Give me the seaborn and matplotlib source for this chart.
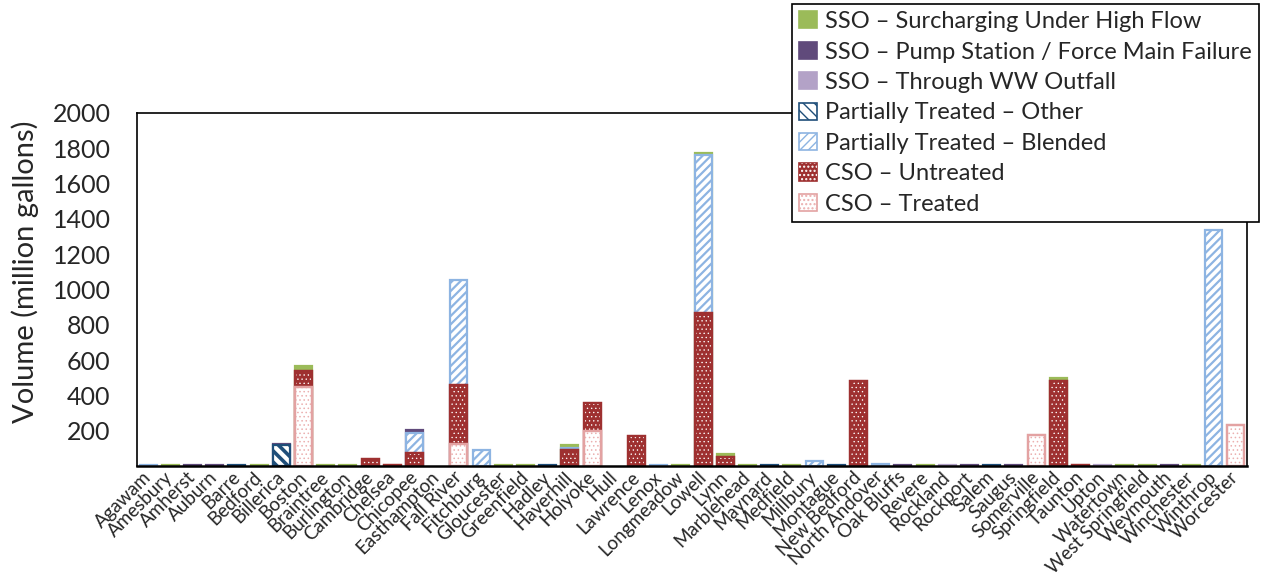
import numpy as np
import pandas as pd
import matplotlib
matplotlib.use("Agg")
import matplotlib.pyplot as plt
from matplotlib.patches import Patch
from matplotlib.ticker import FixedLocator
import seaborn as sns

# ---- data (million gallons) ----
cities = ["Agawam", "Amesbury", "Amherst", "Auburn", "Barre", "Bedford", "Billerica",
          "Boston", "Braintree", "Burlington", "Cambridge", "Chelsea", "Chicopee",
          "Easthampton", "Fall River", "Fitchburg", "Gloucester", "Greenfield", "Hadley",
          "Haverhill", "Holyoke", "Hull", "Lawrence", "Lenox", "Longmeadow", "Lowell",
          "Lynn", "Marblehead", "Maynard", "Medfield", "Millbury", "Montague",
          "New Bedford", "North Andover", "Oak Bluffs", "Revere", "Rockland", "Rockport",
          "Salem", "Saugus", "Somerville", "Springfield", "Taunton", "Upton", "Watertown",
          "West Springfield", "Weymouth", "Winchester", "Winthrop", "Worcester"]

cso_treated = [0, 0, 0, 0, 0, 0, 0, 446, 0, 0, 0, 0, 0, 0, 123, 0, 0, 0, 0, 0, 200, 0, 0, 0, 0,
               0, 0, 0, 0, 0, 0, 0, 0, 0, 0, 0, 0, 0, 0, 0, 176, 0, 0, 0, 0, 0, 0, 0, 0, 232]
cso_untreated = [0, 0, 0, 0, 0, 0, 0, 94, 0, 0, 38, 6, 72, 0, 336, 0, 0, 0, 0, 90, 155, 0, 170, 0, 0,
                 868, 50, 0, 0, 0, 0, 0, 483, 0, 0, 0, 0, 0, 0, 0, 0, 482, 6, 0, 0, 0, 0, 0, 0, 0]
pt_blended = [4, 0, 0, 0, 0, 0, 0, 0, 0, 0, 0, 0, 117, 0, 595, 88, 0, 0, 0, 13, 0, 0, 0, 4, 0,
              893, 0, 0, 0, 0, 30, 0, 0, 14, 0, 0, 0, 0, 0, 0, 0, 0, 0, 0, 0, 0, 0, 0, 1335, 0]
pt_other = [0, 0, 0, 0, 4, 0, 118, 0, 0, 0, 0, 0, 0, 0, 0, 0, 0, 0, 5, 0, 0, 0, 0, 0, 0,
            0, 0, 0, 4, 0, 0, 6, 0, 0, 0, 0, 0, 0, 5, 0, 0, 0, 0, 0, 0, 0, 0, 0, 0, 0]
sso_outfall = [0, 0, 0, 0, 0, 0, 0, 0, 0, 0, 0, 0, 0, 0, 0, 0, 0, 0, 0, 0, 0, 0, 0, 0, 0,
               0, 0, 0, 0, 0, 0, 0, 0, 0, 0, 0, 4, 0, 0, 0, 0, 0, 0, 4, 0, 0, 0, 0, 0, 0]
sso_pump = [0, 0, 4, 4, 0, 0, 8, 0, 0, 0, 0, 0, 14, 0, 0, 0, 0, 0, 0, 0, 0, 0, 0, 0, 0,
            0, 0, 0, 0, 0, 0, 0, 0, 0, 4, 0, 0, 4, 0, 4, 0, 0, 0, 0, 0, 0, 4, 0, 0, 0]
sso_surcharge = [0, 4, 0, 0, 0, 4, 0, 26, 4, 4, 0, 0, 0, 0, 0, 0, 4, 4, 0, 15, 0, 0, 0, 0, 4,
                 15, 16, 3, 0, 3, 0, 0, 0, 0, 0, 4, 0, 0, 0, 0, 0, 14, 0, 0, 4, 4, 0, 4, 0, 0]

y_ticks = [0, 200, 400, 600, 800, 1000, 1200, 1400, 1600, 1800, 2000]

# ---- styles ----
GREEN = "#9BBB59"
PURPLE = "#604A7B"
LILAC = "#B3A2C7"
NAVY = "#1F4E79"
SKY = "#8DB4E2"
RED = "#9E3030"
PINK = "#E3A2A2"
PINK_DOT = "#EBB0B0"

# stacking order, bottom to top
layers = [
    ("CSO – Treated", cso_treated,
     dict(face="white", edge=PINK, hatch=None, over=("....", PINK_DOT, 0.6))),
    ("CSO – Untreated", cso_untreated,
     dict(face=RED, edge=RED, hatch=None, over=("....", "white", 0.45))),
    ("Partially Treated – Blended", pt_blended,
     dict(face="white", edge=SKY, hatch="////", hlw=1.6, over=None)),
    ("Partially Treated – Other", pt_other,
     dict(face="white", edge=NAVY, hatch="\\\\\\", hlw=2.6, over=None)),
    ("SSO – Through WW Outfall", sso_outfall,
     dict(face=LILAC, edge=LILAC, hatch=None, over=None)),
    ("SSO – Pump Station / Force Main Failure", sso_pump,
     dict(face=PURPLE, edge=PURPLE, hatch=None, over=None)),
    ("SSO – Surcharging Under High Flow", sso_surcharge,
     dict(face=GREEN, edge=GREEN, hatch=None, over=None)),
]

sns.set_style("white")
FONT = ["Lato", "DejaVu Sans"]
plt.rcParams["font.family"] = FONT

fig = plt.figure(figsize=(12.67, 5.82), dpi=100)
ax = fig.add_axes([137 / 1267, 1 - 466 / 582, (1247 - 137) / 1267, (466 - 113) / 582])

BAR_W = 0.76


def style_new(start, face, edge, lw, hatch=None, hlw=1.0):
    for p in ax.patches[start:]:
        p.set_facecolor(face)
        p.set_edgecolor(edge)
        p.set_linewidth(lw)
        p.set_hatch(hatch)
        if hasattr(p, "set_hatch_linewidth"):
            p.set_hatch_linewidth(hlw)
        else:
            p._hatch_linewidth = hlw


def bar_layer(heights, mask, face, edge, lw, hatch=None, hlw=1.0):
    df = pd.DataFrame({"city": cities, "vol": heights})[mask]
    start = len(ax.patches)
    sns.barplot(data=df, x="city", y="vol", order=cities, ax=ax, color=face,
                saturation=1, width=BAR_W, errorbar=None)
    style_new(start, face, edge, lw, hatch, hlw)


vals = np.array([np.asarray(v, float) for _, v, _ in layers])
cum = np.cumsum(vals, axis=0)

# draw cumulative totals from the top layer down so each lower layer covers the previous
for k in range(len(layers) - 1, -1, -1):
    name, v, st = layers[k]
    mask = np.asarray(v) > 0
    if not mask.any():
        continue
    bar_layer(cum[k], mask, st["face"], st["edge"], 1.6, st["hatch"], st.get("hlw", 1.0))
    if st["over"] is not None:
        h, c, hlw = st["over"]
        bar_layer(cum[k], mask, "none", c, 0.0, h, hlw)
        # keep the outline visible on top of the dot overlay
        bar_layer(cum[k], mask, "none", st["edge"], 1.6, None)

ax.set_xlim(-0.5, len(cities) - 0.5)
ax.set_ylim(0, 2000)
ax.set_yticks(y_ticks)
ax.set_yticklabels(["" if t == 0 else str(t) for t in y_ticks], fontsize=18)
ax.set_xticks(range(len(cities)))
ax.set_xticklabels(cities, fontsize=13.5)
for lab in ax.get_xticklabels():
    lab.set_rotation(45)
    lab.set_ha("right")
    lab.set_va("center")
    lab.set_rotation_mode("anchor")
ax.xaxis.set_minor_locator(FixedLocator(np.arange(-0.5, len(cities), 1.0)))
ax.tick_params(axis="x", which="major", length=0, pad=6)
ax.tick_params(axis="x", which="minor", length=6, width=1.2, direction="out", color="black")
ax.tick_params(axis="y", which="major", length=5, width=1.2, direction="in", color="black", pad=19)
ax.set_xlabel("")
ax.set_ylabel("Volume (million gallons)", fontsize=21)
ax.yaxis.set_label_coords(-0.088, 0.55)
for s in ax.spines.values():
    s.set_visible(True)
    s.set_color("black")
    s.set_linewidth(1.2)
ax.spines["bottom"].set_linewidth(1.8)

# legend, top layer first
handles, labels = [], []
for name, v, st in reversed(layers):
    base = Patch(facecolor=st["face"], edgecolor=st["edge"], linewidth=1.2, hatch=st["hatch"])
    if st["over"] is not None:
        h, c, _ = st["over"]
        over = Patch(facecolor="none", edgecolor=c, linewidth=0, hatch=h)
        handles.append((base, over))
    else:
        handles.append(base)
    labels.append(name)

leg = fig.legend(handles, labels, loc="upper right", bbox_to_anchor=(1259 / 1267, 1 - 4 / 582),
                 frameon=True, fancybox=False, framealpha=1, edgecolor="black",
                 fontsize=17, handlelength=0.75, handleheight=0.75, handletextpad=0.35,
                 borderpad=0.3, labelspacing=0.4, borderaxespad=0)
leg.get_frame().set_linewidth(1.2)

fig.savefig("out.png", dpi=100, facecolor="white")
